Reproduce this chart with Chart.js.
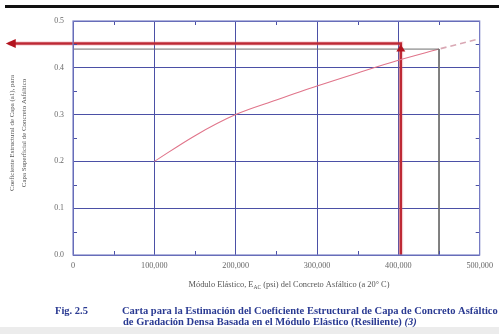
<!DOCTYPE html>
<html>
<head>
<meta charset="utf-8">
<script src="https://cdn.jsdelivr.net/npm/chart.js@4.4.1/dist/chart.umd.min.js"></script>
<style>
html, body { margin: 0; padding: 0; background: #fff; }
#wrap { width: 499px; height: 334px; position: relative; }
</style>
</head>
<body>
<div id="wrap"><canvas id="chart" width="499" height="334"></canvas></div>
<script>
// --- DATOS ---
const modulusPsi = [100000, 150000, 200000, 250000, 300000, 350000, 400000, 450000];
const layerCoef = [0.200, 0.255, 0.300, 0.331, 0.361, 0.389, 0.416, 0.440];
const extensionPsi = [452000, 500000];
const extensionCoef = [0.441, 0.462];
const guideX = [0, 450000, 450000];
const guideY = [0.440, 0.440, 0];
const arrowX = [403000, 403000, -79000];
const arrowY = [0, 0.452, 0.452];
const xMinor = [50000, 150000, 250000, 350000, 450000];
const yMinor = [0.05, 0.15, 0.25, 0.35, 0.45];
const yTitle = ['Coeficiente Estructural de Capa (a1), para', 'Capa Superficial de Concreto Asfáltico'];
const figLabel = 'Fig. 2.5';
const caption1 = 'Carta para la Estimación del Coeficiente Estructural de Capa de Concreto Asfáltico';
const caption2 = 'de Gradación Densa Basada en el Módulo Elástico (Resiliente) ';

const pts = (xs, ys) => xs.map((x, i) => ({ x: x, y: ys[i] }));

const GRID = '#4b50a6';
const SERIF = '"Liberation Serif", "DejaVu Serif", serif';

// --- DECORACION: flechas, marcas menores, textos ---
const decor = {
    id: 'decor',
    beforeDraw(chart) {
        const c = chart.ctx;
        c.save();
        c.fillStyle = '#fff';
        c.fillRect(0, 0, chart.width, chart.height);
        c.fillStyle = '#ececec';
        c.fillRect(0, 327, chart.width, chart.height - 327);
        c.fillStyle = '#111';
        c.fillRect(5, 5, chart.width - 5, 3);
        c.restore();
    },
    afterDatasetsDraw(chart) {
        const c = chart.ctx;
        const xs = chart.scales.x, ys = chart.scales.y;
        const a = chart.chartArea;

        // marcas menores
        c.save();
        c.strokeStyle = GRID;
        c.lineWidth = 1;
        c.beginPath();
        xMinor.forEach(v => {
            const px = Math.round(xs.getPixelForValue(v)) + 0.5;
            c.moveTo(px, a.bottom); c.lineTo(px, a.bottom - 4);
            c.moveTo(px, a.top); c.lineTo(px, a.top + 4);
        });
        yMinor.forEach(v => {
            const py = Math.round(ys.getPixelForValue(v)) + 0.5;
            c.moveTo(a.left, py); c.lineTo(a.left + 4, py);
            c.moveTo(a.right, py); c.lineTo(a.right - 4, py);
        });
        c.stroke();

        // borde
        c.strokeStyle = '#7b80c6';
        c.lineWidth = 1.2;
        c.strokeRect(a.left, a.top, a.right - a.left, a.bottom - a.top);

        // puntas de flecha
        c.fillStyle = '#b3141f';
        const vx = xs.getPixelForValue(arrowX[1]);
        const vy = ys.getPixelForValue(arrowY[1]);
        c.beginPath();
        c.moveTo(vx, vy + 1);
        c.lineTo(vx - 4.5, vy + 8);
        c.lineTo(vx + 4.5, vy + 8);
        c.closePath();
        c.fill();
        const lx = xs.getPixelForValue(arrowX[2]);
        const ly = ys.getPixelForValue(arrowY[2]);
        c.beginPath();
        c.moveTo(lx - 3, ly);
        c.lineTo(lx + 7, ly - 4.5);
        c.lineTo(lx + 7, ly + 4.5);
        c.closePath();
        c.fill();
        c.restore();
    },
    afterDraw(chart) {
        const c = chart.ctx;
        c.save();
        c.textBaseline = 'middle';

        // titulo eje Y (girado)
        c.fillStyle = '#555';
        c.font = '6.9px ' + SERIF;
        c.textAlign = 'center';
        [12, 24].forEach((x, i) => {
            c.save();
            c.translate(x, 133);
            c.rotate(-Math.PI / 2);
            c.fillText(yTitle[i], 0, 0);
            c.restore();
        });

        // titulo eje X con subindice
        c.textAlign = 'left';
        const p1 = 'Módulo Elástico, E', sub = 'AC', p2 = ' (psi) del Concreto Asfáltico (a 20° C)';
        const big = '8.4px ' + SERIF, small = '5.6px ' + SERIF;
        c.font = big;
        const w1 = c.measureText(p1).width, w3 = c.measureText(p2).width;
        c.font = small;
        const w2 = c.measureText(sub).width;
        let x = 289 - (w1 + w2 + w3) / 2;
        c.font = big;
        c.fillText(p1, x, 285);
        x += w1;
        c.font = small;
        c.fillText(sub, x, 287.5);
        x += w2;
        c.font = big;
        c.fillText(p2, x, 285);

        // pie de figura (ajustado al ancho de la referencia)
        c.fillStyle = '#2a3a92';
        c.font = 'bold 10px ' + SERIF;
        const size = 10 * 376 / c.measureText(caption1).width;
        c.font = 'bold ' + size + 'px ' + SERIF;
        c.fillText(figLabel, 55, 311);
        c.fillText(caption1, 122, 311);
        c.fillText(caption2, 123, 322);
        const w = c.measureText(caption2).width;
        c.font = 'italic bold ' + size + 'px ' + SERIF;
        c.fillText('(3)', 123 + w, 322);
        c.restore();
    }
};

// --- GRAFICO ---
new Chart(document.getElementById('chart'), {
    type: 'scatter',
    data: {
        datasets: [
            {
                data: pts(guideX, guideY),
                showLine: true, borderColor: '#6e6e6e', borderWidth: 1,
                pointRadius: 0, tension: 0
            },
            {
                data: pts(modulusPsi, layerCoef),
                showLine: true, borderColor: '#e0748a', borderWidth: 1.1,
                pointRadius: 0, cubicInterpolationMode: 'monotone'
            },
            {
                data: pts(extensionPsi, extensionCoef),
                showLine: true, borderColor: '#d9a8b4', borderWidth: 1.6,
                borderDash: [6, 4], pointRadius: 0
            },
            {
                data: pts(arrowX, arrowY),
                showLine: true, borderColor: 'rgba(232,120,130,0.22)', borderWidth: 5,
                pointRadius: 0, clip: false, tension: 0
            },
            {
                data: pts(arrowX, arrowY),
                showLine: true, borderColor: '#b3141f', borderWidth: 2.6,
                pointRadius: 0, clip: false, tension: 0, borderJoinStyle: 'miter'
            }
        ]
    },
    options: {
        responsive: false,
        animation: false,
        layout: { padding: { top: 21, right: 16, left: 0, bottom: 0 } },
        plugins: { legend: { display: false }, tooltip: { enabled: false } },
        scales: {
            x: {
                type: 'linear', min: 0, max: 500000,
                afterFit: s => { s.height = 79; },
                grid: { color: GRID, lineWidth: 1, drawTicks: false },
                border: { display: false },
                ticks: {
                    stepSize: 100000, padding: 6, color: '#666',
                    font: { family: SERIF, size: 8.2 },
                    callback: v => v === 0 ? '0' : v.toLocaleString('en-US')
                }
            },
            y: {
                min: 0, max: 0.5,
                afterFit: s => { s.width = 73; },
                grid: { color: GRID, lineWidth: 1, drawTicks: false },
                border: { display: false },
                ticks: {
                    stepSize: 0.1, padding: 9, color: '#666',
                    font: { family: SERIF, size: 7.8 },
                    callback: v => v.toFixed(1)
                }
            }
        }
    },
    plugins: [decor]
});
</script>
</body>
</html>
